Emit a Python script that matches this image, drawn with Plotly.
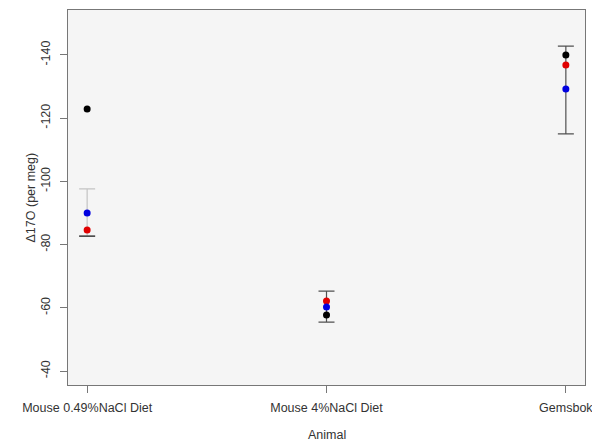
import plotly.graph_objects as go

categories = ["Mouse 0.49%NaCl Diet", "Mouse 4%NaCl Diet", "Gemsbok"]
black_vals = [-122.9, -57.7, -140.0]
red_vals = [-84.6, -62.2, -136.8]
blue_vals = [-90.0, -60.3, -129.2]
err_min = [-97.6, -65.3, -142.8]
err_max = [-82.7, -55.5, -115.0]
y_ticks = [-140, -120, -100, -80, -60, -40]
err_colors = ["#c4c4c4", "#505050", "#505050"]

xpos = list(range(1, len(categories) + 1))
font = "Liberation Sans, Arial, sans-serif"

fig = go.Figure()

for i, x in enumerate(xpos):
    mid = (err_min[i] + err_max[i]) / 2
    half = (err_max[i] - err_min[i]) / 2
    fig.add_trace(go.Scatter(
        x=[x], y=[mid], mode="markers",
        marker=dict(size=1, opacity=0),
        error_y=dict(type="data", array=[half], symmetric=True,
                     color=err_colors[i], thickness=1.2, width=8),
        showlegend=False, hoverinfo="skip"))

fig.add_trace(go.Scatter(
    x=[xpos[0]], y=[err_max[0]], mode="markers",
    marker=dict(size=1, opacity=0),
    error_y=dict(type="data", array=[0], symmetric=True,
                 color="#222222", thickness=1.2, width=8),
    showlegend=False, hoverinfo="skip"))

for vals, col in [(black_vals, "black"), (red_vals, "#e00000"), (blue_vals, "#0000e0")]:
    fig.add_trace(go.Scatter(
        x=xpos, y=vals, mode="markers",
        marker=dict(color=col, size=7, line=dict(width=0)),
        showlegend=False))

fig.update_layout(
    width=592, height=444,
    margin=dict(l=68, r=7, t=10, b=59),
    paper_bgcolor="white", plot_bgcolor="#f5f5f5",
    font=dict(family=font, size=12.5, color="#333333"),
    xaxis=dict(
        range=[0.92, 3.08], tickvals=xpos, ticktext=categories,
        showgrid=False, zeroline=False, automargin=False,
        ticklabeloverflow="allow", ticklabelstandoff=4,
        showline=True, mirror=True, linecolor="#777777", linewidth=1,
        ticks="outside", ticklen=7, tickcolor="#777777",
        tickfont=dict(size=12.5, color="#333333"),
    ),
    yaxis=dict(
        range=[-35.6, -154.2], tickvals=y_ticks, ticktext=[str(v) for v in y_ticks],
        tickangle=-90, showgrid=False, zeroline=False, automargin=False,
        ticklabeloverflow="allow", ticklabelstandoff=5,
        showline=True, mirror=True, linecolor="#777777", linewidth=1,
        ticks="outside", ticklen=7, tickcolor="#777777",
        tickfont=dict(size=12.5, color="#333333"),
    ),
    annotations=[
        dict(text="Animal", xref="paper", yref="paper", x=0.5, y=-0.133,
             xanchor="center", yanchor="middle", showarrow=False,
             font=dict(size=12.5, color="#333333")),
        dict(text="Δ17O (per meg)", xref="paper", yref="paper", x=-0.0716, y=0.5,
             xanchor="center", yanchor="middle", textangle=-90, showarrow=False,
             font=dict(size=12.5, color="#333333")),
    ],
)

fig.write_html("out.html", config={"displayModeBar": False},
               post_script="document.body.style.margin='0';document.body.style.overflow='hidden';")
